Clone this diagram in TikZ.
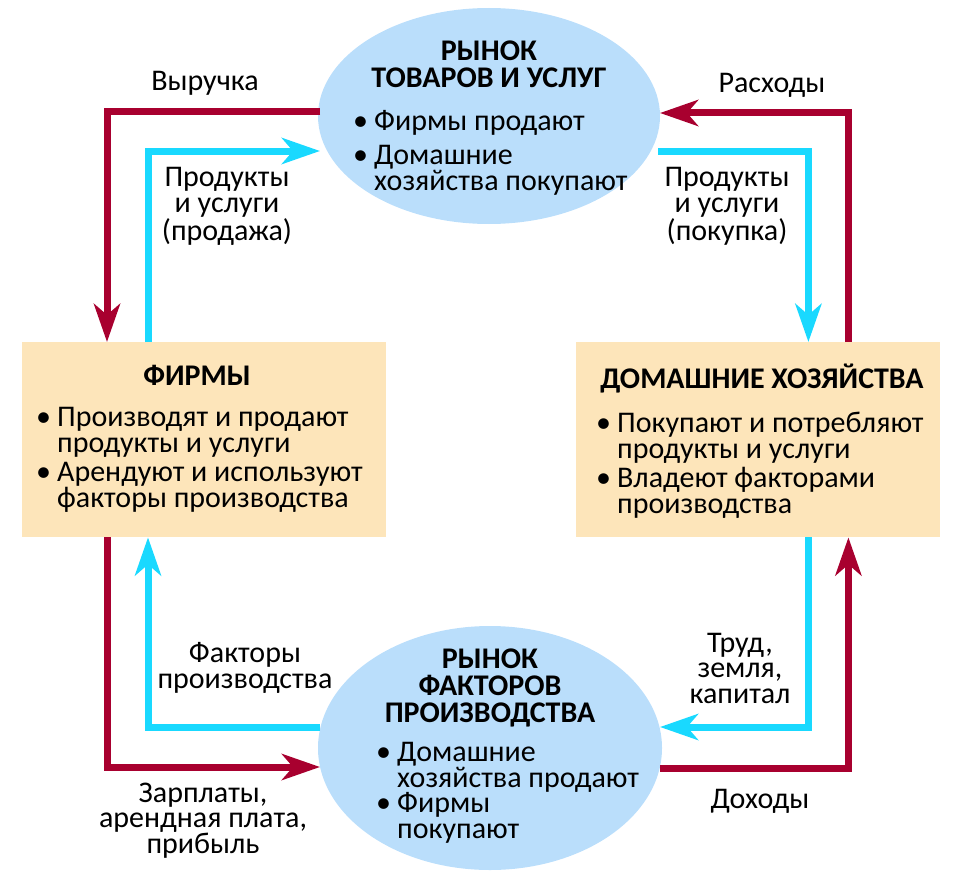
\documentclass[tikz,border=0pt]{standalone}
\usepackage{fontspec}
\setmainfont{Carlito}
\usetikzlibrary{arrows.meta,shapes.geometric}
\definecolor{flowred}{HTML}{A8002F}
\definecolor{flowblue}{HTML}{19D9FF}
\definecolor{mktfill}{HTML}{BADEFB}
\definecolor{boxfill}{HTML}{FDE5BA}
\newcommand{\bul}{\makebox[21pt][l]{•}}
\newcommand{\ind}{\hspace*{21pt}}
\tikzset{
  txt/.style={font=\fontsize{30}{25.5}\selectfont, inner sep=0pt, align=center, anchor=base},
  lefttxt/.style={font=\fontsize{30}{26}\selectfont, inner sep=0pt, align=left, anchor=base west},
  head/.style={font=\bfseries\fontsize{30}{27}\selectfont, inner sep=0pt, align=center, anchor=base},
  market/.style={ellipse, fill=mktfill, draw=none},
  agent/.style={rectangle, fill=boxfill, draw=none, anchor=north west},
  flow/.style={line width=7pt, line join=miter, -{Stealth[length=38pt,width=26pt,inset=11pt]}},
  redflow/.style={flow, draw=flowred},
  blueflow/.style={flow, draw=flowblue},
}
\begin{document}
\begin{tikzpicture}[x=1pt,y=-1pt]
\useasboundingbox (0,0) rectangle (960,880);

% markets
\node[market, minimum width=342pt, minimum height=216pt] (goods) at (489,116) {};
\node[market, minimum width=344pt, minimum height=244pt] (factors) at (490,748) {};

% agents
\node[agent, minimum width=364pt, minimum height=195pt] (firms) at (22,342) {};
\node[agent, minimum width=364pt, minimum height=195pt] (house) at (576,342) {};

% attach coordinates on markets
\coordinate (gRL) at (320,112);
\coordinate (gBL) at (320,151);
\coordinate (gBR) at (658,151);
\coordinate (gRR) at (660,113);
\coordinate (fBL) at (320,727);
\coordinate (fRL) at (320,767);
\coordinate (fBR) at (660,727);
\coordinate (fRR) at (660,768);

% flows top
\draw[redflow] (gRL) -| ([xshift=85]firms.north west);
\draw[blueflow] ([xshift=126]firms.north west) |- (gBL);
\draw[blueflow] (gBR) -| ([xshift=-132]house.north east);
\draw[redflow] ([xshift=-92]house.north east) |- (gRR);
% flows bottom
\draw[redflow] ([xshift=85]firms.south west) |- (fRL);
\draw[blueflow] (fBL) -| ([xshift=126]firms.south west);
\draw[blueflow] ([xshift=-132]house.south east) |- (fBR);
\draw[redflow] (fRR) -| ([xshift=-92]house.south east);

% market texts (base = baseline of last line)
\node[head] (goodsT) at (489,88) {РЫНОК\\ТОВАРОВ И УСЛУГ};
\node[lefttxt] (goodsB1) at (353,130) {\bul Фирмы продают};
\node[lefttxt] (goodsB2) at (353,190) {\bul Домашние\\\ind хозяйства покупают};

\node[head] (factorsT) at (490,722) {РЫНОК\\ФАКТОРОВ\\ПРОИЗВОДСТВА};
\node[lefttxt] (factorsB1) at (376,787) {\bul Домашние\\\ind хозяйства продают};
\node[lefttxt] (factorsB2) at (376,838) {\bul Фирмы\\\ind покупают};

% agent texts
\node[head] (firmsT) at (197,385) {ФИРМЫ};
\node[lefttxt] (firmsB1) at (36,452) {\bul Производят и продают\\\ind продукты и услуги};
\node[lefttxt] (firmsB2) at (36,507) {\bul Арендуют и используют\\\ind факторы производства};

\node[head] (houseT) at (762,388) {ДОМАШНИЕ ХОЗЯЙСТВА};
\node[lefttxt] (houseB1) at (596,458) {\bul Покупают и потребляют\\\ind продукты и услуги};
\node[lefttxt] (houseB2) at (596,513) {\bul Владеют факторами\\\ind производства};

% flow labels
\node[txt] (lRev) at (205,91) {Выручка};
\node[txt] (lExp) at (772,93) {Расходы};
\node[txt] (lSell) at (227,240) {Продукты\\и услуги\\(продажа)};
\node[txt] (lBuy) at (727,240) {Продукты\\и услуги\\(покупка)};
\node[txt] (lFac) at (245,688) {Факторы\\производства};
\node[txt] (lLab) at (740,703) {Труд,\\земля,\\капитал};
\node[txt] (lWage) at (203,853) {Зарплаты,\\арендная плата,\\прибыль};
\node[txt] (lInc) at (760,808) {Доходы};
\end{tikzpicture}
\end{document}
